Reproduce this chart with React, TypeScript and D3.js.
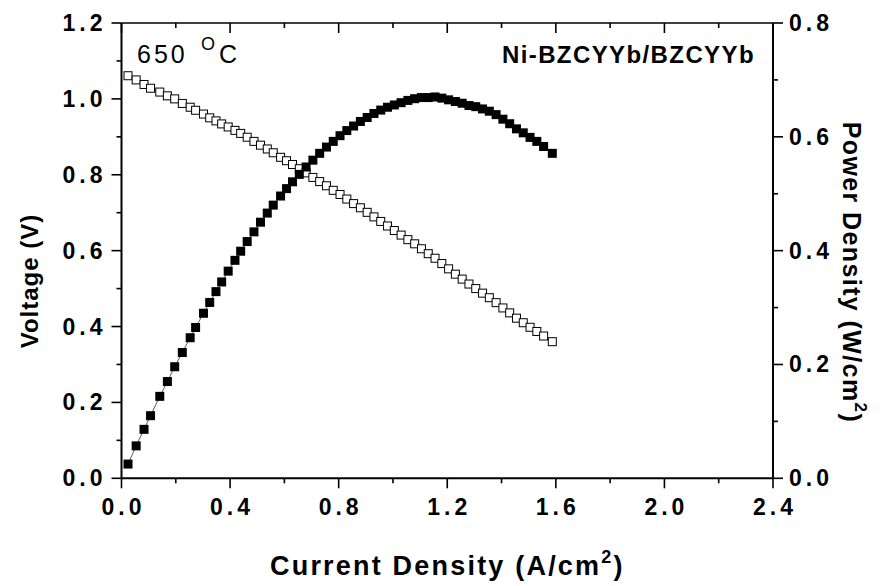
import React from "react";
import * as d3 from "d3";

const current = [
  0.024, 0.054, 0.083, 0.107, 0.141, 0.169, 0.196, 0.224, 0.253, 0.273, 0.302, 0.325,
  0.348, 0.369, 0.393, 0.418, 0.439, 0.463, 0.488, 0.512, 0.537, 0.559, 0.586, 0.608,
  0.630, 0.655, 0.680, 0.705, 0.730, 0.755, 0.780, 0.805, 0.830, 0.855, 0.880, 0.905,
  0.930, 0.955, 0.980, 1.005, 1.030, 1.055, 1.080, 1.105, 1.130, 1.155, 1.180, 1.205,
  1.230, 1.255, 1.280, 1.305, 1.330, 1.355, 1.380, 1.405, 1.430, 1.455, 1.480, 1.505,
  1.530, 1.555, 1.587,
];

const voltage = [
  1.061, 1.050, 1.038, 1.028, 1.018, 1.008, 1.000, 0.988, 0.978, 0.970, 0.960, 0.950,
  0.942, 0.934, 0.926, 0.917, 0.909, 0.899, 0.888, 0.878, 0.868, 0.858, 0.846, 0.837,
  0.827, 0.816, 0.805, 0.793, 0.782, 0.771, 0.759, 0.748, 0.736, 0.724, 0.713, 0.701,
  0.689, 0.677, 0.665, 0.653, 0.641, 0.629, 0.618, 0.605, 0.592, 0.580, 0.566, 0.552,
  0.538, 0.525, 0.512, 0.500, 0.488, 0.476, 0.463, 0.449, 0.436, 0.422, 0.410, 0.398,
  0.387, 0.375, 0.360,
];

const power = [
  0.025, 0.057, 0.086, 0.110, 0.144, 0.170, 0.196, 0.221, 0.247, 0.265, 0.290, 0.309,
  0.328, 0.345, 0.364, 0.383, 0.399, 0.416, 0.433, 0.450, 0.466, 0.480, 0.496, 0.509,
  0.521, 0.534, 0.547, 0.559, 0.571, 0.582, 0.592, 0.602, 0.611, 0.619, 0.627, 0.634,
  0.641, 0.647, 0.652, 0.656, 0.660, 0.664, 0.667, 0.669, 0.669, 0.670, 0.668, 0.665,
  0.662, 0.659, 0.655, 0.653, 0.649, 0.645, 0.639, 0.631, 0.623, 0.614, 0.607, 0.599,
  0.592, 0.583, 0.571,
];

const xMajor = [0, 0.4, 0.8, 1.2, 1.6, 2.0, 2.4];
const xMinor = [0.2, 0.6, 1.0, 1.4, 1.8, 2.2];
const yLeftMajor = [0, 0.2, 0.4, 0.6, 0.8, 1.0, 1.2];
const yLeftMinor = [0.1, 0.3, 0.5, 0.7, 0.9, 1.1];
const yRightMajor = [0, 0.2, 0.4, 0.6, 0.8];
const yRightMinor = [0.1, 0.3, 0.5, 0.7];

const FONT = "Arial, 'Liberation Sans', Helvetica, sans-serif";

export default function App() {
  const left = 121.5, right = 773, top = 23, bottom = 478.3;
  const x = d3.scaleLinear().domain([0, 2.4]).range([left, right]);
  const yL = d3.scaleLinear().domain([0, 1.2]).range([bottom, top]);
  const yR = d3.scaleLinear().domain([0, 0.8]).range([bottom, top]);

  const idx = d3.range(current.length);
  const vLine = d3.line<number>().x((i) => x(current[i])).y((i) => yL(voltage[i]));
  const pLine = d3.line<number>().x((i) => x(current[i])).y((i) => yR(power[i]));
  const SV = 8;
  const SP = 9;

  const tickLbl = { fontFamily: FONT, fontWeight: 700, fontSize: 23, letterSpacing: 4 } as const;

  return (
    <svg width={882} height={586} style={{ position: "absolute", left: 0, top: 0, background: "#fff" }}>
      <rect x={0} y={0} width={882} height={586} fill="#fff" />
      {/* frame */}
      <g stroke="#000" strokeWidth={2} fill="none">
        <line x1={left} x2={right} y1={bottom} y2={bottom} />
        <line x1={left} x2={right} y1={top} y2={top} strokeWidth={1.5} />
        <line x1={left} x2={left} y1={top} y2={bottom} />
        <line x1={right} x2={right} y1={top} y2={bottom} />
      </g>
      {/* ticks */}
      <g stroke="#000" strokeWidth={1.6}>
        {xMajor.map((t) => (
          <line key={"bx" + t} x1={x(t)} x2={x(t)} y1={bottom} y2={bottom + 10} />
        ))}
        {xMinor.map((t) => (
          <line key={"bm" + t} x1={x(t)} x2={x(t)} y1={bottom} y2={bottom + 5} />
        ))}
        {xMajor.map((t) => (
          <line key={"tx" + t} x1={x(t)} x2={x(t)} y1={top} y2={top + 10} />
        ))}
        {xMinor.map((t) => (
          <line key={"tm" + t} x1={x(t)} x2={x(t)} y1={top} y2={top + 5} />
        ))}
        {yLeftMajor.map((t) => (
          <line key={"ly" + t} x1={left - 10} x2={left} y1={yL(t)} y2={yL(t)} />
        ))}
        {yLeftMinor.map((t) => (
          <line key={"lm" + t} x1={left - 5} x2={left} y1={yL(t)} y2={yL(t)} />
        ))}
        {yRightMajor.map((t) => (
          <line key={"ry" + t} x1={right} x2={right + 10} y1={yR(t)} y2={yR(t)} />
        ))}
        {yRightMinor.map((t) => (
          <line key={"rm" + t} x1={right} x2={right + 5} y1={yR(t)} y2={yR(t)} />
        ))}
      </g>
      {/* tick labels */}
      <g {...tickLbl} fill="#000">
        {xMajor.map((t) => (
          <text key={"bxl" + t} x={x(t) + 2} y={515} textAnchor="middle">
            {t.toFixed(1)}
          </text>
        ))}
        {yLeftMajor.map((t) => (
          <text key={"lyl" + t} x={106.5} y={yL(t) + 8} textAnchor="end">
            {t.toFixed(1)}
          </text>
        ))}
        {yRightMajor.map((t) => (
          <text key={"ryl" + t} x={789} y={yR(t) + 8} textAnchor="start">
            {t.toFixed(1)}
          </text>
        ))}
      </g>

      {/* series */}
      <path d={vLine(idx) || ""} fill="none" stroke="#333" strokeWidth={0.8} />
      {idx.map((i) => (
        <rect
          key={"v" + i}
          x={x(current[i]) - SV / 2}
          y={yL(voltage[i]) - SV / 2}
          width={SV}
          height={SV}
          fill="#fff"
          stroke="#000"
          strokeWidth={1}
        />
      ))}
      <path d={pLine(idx) || ""} fill="none" stroke="#333" strokeWidth={0.8} />
      {idx.map((i) => (
        <rect
          key={"p" + i}
          x={x(current[i]) - SP / 2}
          y={yR(power[i]) - SP / 2}
          width={SP}
          height={SP}
          fill="#000"
        />
      ))}

      {/* annotations */}
      <text x={137} y={63} fontFamily={FONT} fontSize={25} letterSpacing={3} fill="#000">
        650
      </text>
      <text x={201} y={50} fontFamily={FONT} fontSize={18} fill="#000">
        O
      </text>
      <text x={219} y={63} fontFamily={FONT} fontSize={25} fill="#000">
        C
      </text>
      <text
        x={755}
        y={63}
        fontFamily={FONT}
        fontWeight={700}
        fontSize={24}
        letterSpacing={1.4}
        textAnchor="end"
        fill="#000"
      >
        Ni-BZCYYb/BZCYYb
      </text>

      {/* axis titles */}
      <text x={270} y={575} fontFamily={FONT} fontWeight={700} fontSize={27} letterSpacing={2.2} fill="#000">
        Current Density (A/cm
        <tspan fontSize={18} dy={-12}>2</tspan>
        <tspan dy={12}>)</tspan>
      </text>
      <text
        transform="translate(38,281) rotate(-90)"
        fontFamily={FONT}
        fontWeight={700}
        fontSize={24}
        letterSpacing={1}
        textAnchor="middle"
        fill="#000"
      >
        Voltage (V)
      </text>
      <text
        transform="translate(843,121.7) rotate(90)"
        fontFamily={FONT}
        fontWeight={700}
        fontSize={25}
        letterSpacing={1.4}
        fill="#000"
      >
        Power Density (W/cm
        <tspan fontSize={17} dy={-12}>2</tspan>
        <tspan dy={12}>)</tspan>
      </text>
    </svg>
  );
}
